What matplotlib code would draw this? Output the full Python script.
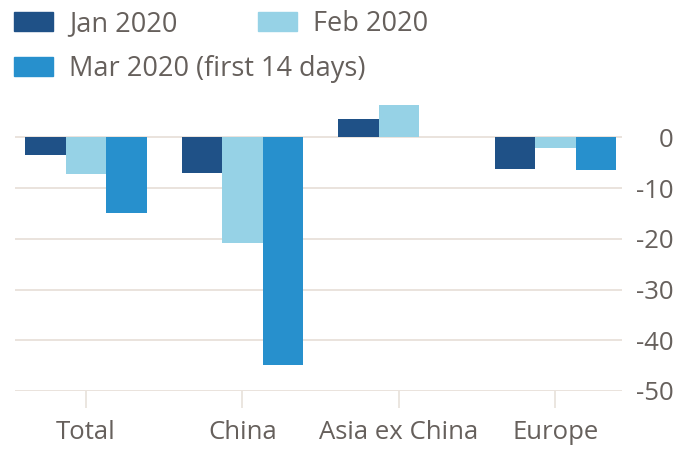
import numpy as np
import matplotlib.pyplot as plt
from matplotlib.patches import Rectangle

# -- DATA
REGIONS = ["Total", "China", "Asia ex China", "Europe"]
SERIES = ["Jan 2020", "Feb 2020", "Mar 2020 (first 14 days)"]
JAN = [-3.4, -7.1, 3.6, -6.2]
FEB = [-7.2, -20.9, 6.4, -2.1]
MAR = [-14.9, -44.9, 0.15, -6.4]
Y_TICKS = [0, -10, -20, -30, -40, -50]

# -- STYLE
COLORS = ["#1f5187", "#96d2e6", "#2790cd"]
GRID = "#e8e1da"
TEXT = "#66605c"
FONT = "Open Sans"
FS_TICK = 18.5
FS_LEGEND = 19.5

plt.rcParams["font.family"] = [FONT, "DejaVu Sans"]

fig = plt.figure(figsize=(6.81, 4.49), dpi=100)
ax = fig.add_axes([0.022, 0.1292, 0.8913, 0.6606])

x = np.arange(len(REGIONS))
width = 0.259
for i, (vals, color) in enumerate(zip([JAN, FEB, MAR], COLORS)):
    ax.bar(x + (i - 1) * width, vals, width, color=color, zorder=3)

ax.set_xlim(-0.454, 3.425)
ax.set_ylim(-50, 8.5)

# gridlines drawn by hand so they stop at the axes edge
for t in Y_TICKS:
    ax.axhline(t, color=GRID, lw=1.3, zorder=1)

ax.yaxis.tick_right()
ax.set_yticks(Y_TICKS)
ax.set_yticklabels([str(t) for t in Y_TICKS])
ax.tick_params(axis="y", length=0, pad=37, labelsize=FS_TICK, labelcolor=TEXT)
for lab in ax.get_yticklabels():
    lab.set_horizontalalignment("right")

ax.set_xticks(x)
ax.set_xticklabels(REGIONS)
ax.tick_params(axis="x", length=12, width=1.2, color=GRID, pad=9,
               labelsize=FS_TICK, labelcolor=TEXT)

for s in ax.spines.values():
    s.set_visible(False)

# legend: two on the first row, one on the second
W, H = 681, 449
legend_pos = [(14, 12), (258, 12), (14, 57)]
for (px, py), name, color in zip(legend_pos, SERIES, COLORS):
    fig.add_artist(Rectangle((px / W, 1 - (py + 19) / H), 39 / W, 19 / H,
                             transform=fig.transFigure, color=color))
    fig.text((px + 55) / W, 1 - (py + 12) / H, name, fontsize=FS_LEGEND,
             color=TEXT, va="center", ha="left")

fig.savefig("out.png", dpi=100, facecolor="white")
